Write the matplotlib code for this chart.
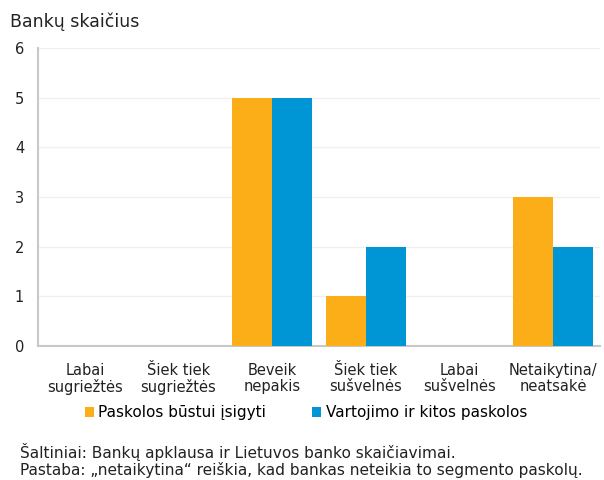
import numpy as np
import matplotlib
matplotlib.use("Agg")
import matplotlib.pyplot as plt

plt.rcParams['font.family'] = ['DejaVu Sans']

# 数据
categories = ["Labai\nsugriežtės", "Šiek tiek\nsugriežtės", "Beveik\nnepakis",
              "Šiek tiek\nsušvelnės", "Labai\nsušvelnės", "Netaikytina/\nneatsakė"]
housing = [0, 0, 5, 1, 0, 3]
consumer = [0, 0, 5, 2, 0, 2]
series_names = ["Paskolos būstui įsigyti", "Vartojimo ir kitos paskolos"]
y_ticks = [0, 1, 2, 3, 4, 5, 6]

fig = plt.figure(figsize=(6.04, 4.8), dpi=100)
ax = fig.add_axes([38 / 604, 1 - 346 / 480, 562 / 604, 298 / 480])

x = np.arange(len(categories))
w = 0.43
ax.bar(x - w / 2, housing, w, color="#FBAE17", label=series_names[0], zorder=3)
ax.bar(x + w / 2, consumer, w, color="#0096D6", label=series_names[1], zorder=3)

ax.set_xlim(-0.5, len(categories) - 0.5)
ax.set_ylim(0, 6)
ax.set_yticks(y_ticks)
ax.set_yticklabels([str(t) for t in y_ticks], fontsize=10.5, color="#222222")
ax.set_xticks(x)
ax.set_xticklabels(categories, fontsize=10.5, color="#222222", linespacing=1.1)
ax.tick_params(axis="both", length=0)
ax.tick_params(axis="y", pad=10)
ax.tick_params(axis="x", pad=12)

ax.yaxis.grid(True, color="#f0f0f0", linewidth=1, zorder=0)
for s in ["top", "right"]:
    ax.spines[s].set_visible(False)
ax.spines["left"].set_color("#c8c8c8")
ax.spines["bottom"].set_color("#c8c8c8")
ax.spines["left"].set_linewidth(1.5)
ax.spines["bottom"].set_linewidth(1.5)

fig.text(10 / 604, 1 - 22 / 480, "Bankų skaičius", fontsize=12.5, va="center", color="#222222")

leg = fig.legend(loc="center", bbox_to_anchor=(306 / 604, 1 - 413 / 480), ncol=2,
                 frameon=False, fontsize=11, handlelength=0.6, handleheight=0.6,
                 handletextpad=0.3, columnspacing=3.0)

fig.text(20 / 604, 1 - 452 / 480, "Šaltiniai: Bankų apklausa ir Lietuvos banko skaičiavimai.",
         fontsize=11.1, va="center", color="#222222")
fig.text(20 / 604, 1 - 470 / 480, "Pastaba: „netaikytina“ reiškia, kad bankas neteikia to segmento paskolų.",
         fontsize=11.1, va="center", color="#222222")

fig.savefig("out.png", dpi=100)
